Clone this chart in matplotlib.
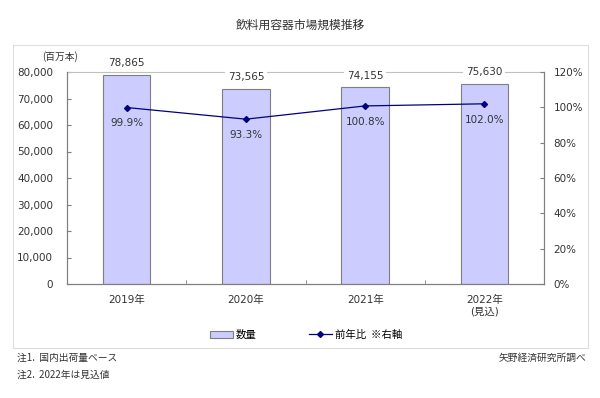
import matplotlib.pyplot as plt
import matplotlib.patches as mpatches
from matplotlib.lines import Line2D
import numpy as np

plt.rcParams['font.family'] = ['DejaVu Sans', 'Noto Sans CJK JP']

# datos del grafico
years = ["2019年", "2020年", "2021年", "2022年\n(見込)"]
cantidad = [78865, 73565, 74155, 75630]   # 百万本
ratio = [99.9, 93.3, 100.8, 102.0]       # 前年比 %

jp = ['Noto Sans CJK JP', 'DejaVu Sans']
gris = '#7f7f7f'
texto = '#333333'

fig = plt.figure(figsize=(6, 3.98), dpi=100)

# marco exterior gris
fig.patches.append(mpatches.Rectangle((13 / 600, 1 - 348 / 398), 575 / 600, 303 / 398,
                                      transform=fig.transFigure, fill=False,
                                      edgecolor='#dddddd', linewidth=0.8))

ax = fig.add_axes([67 / 600, 1 - 284 / 398, 477 / 600, 212 / 398])
x = np.arange(len(years))
ax.bar(x, cantidad, width=0.4, color='#ccccff', edgecolor=gris, linewidth=0.8, zorder=2)
ax.set_xlim(-0.5, len(years) - 0.5)
ax.set_ylim(0, 80000)
ax.set_yticks(np.arange(0, 80001, 10000))
ax.set_yticklabels([f"{v:,}" for v in range(0, 80001, 10000)], fontsize=7.5, color=texto)
ax.set_xticks(x)
ax.set_xticklabels(years, fontsize=7.5, color=texto)
ax.tick_params(axis='x', length=0, pad=8)
ax.set_xticks(np.arange(-0.5, len(years)), minor=True)
ax.tick_params(axis='x', which='minor', length=3, direction='in', color=gris)
ax.tick_params(axis='y', length=3, direction='in', color=gris, pad=10)
for s in ['left', 'right', 'bottom']:
    ax.spines[s].set_color(gris)
ax.spines['top'].set_color('#c0c0c0')

ax2 = ax.twinx()
ax2.plot(x, ratio, color='#000080', linewidth=0.9, marker='D', markersize=3, zorder=4)
ax2.set_ylim(0, 120)
ax2.set_yticks(np.arange(0, 121, 20))
ax2.set_yticklabels([f"{v}%" for v in range(0, 121, 20)], fontsize=7.5, color=texto)
ax2.tick_params(axis='y', length=3, direction='in', color=gris, pad=7)
for s in ['left', 'right', 'bottom']:
    ax2.spines[s].set_color(gris)
ax2.spines['top'].set_visible(False)
for xi, r in zip(x, ratio):
    ax2.text(xi, r - 9, f"{r:.1f}%", ha='center', va='center', fontsize=7.5, color=texto)

# etiquetas de las barras (en ax2 para quedar por encima de la linea superior)
for xi, v in zip(x, cantidad):
    ax2.text(xi, (v + 2600) * 120 / 80000, f"{v:,}", ha='center', va='bottom', fontsize=7.5,
             color=texto, bbox=dict(facecolor='white', edgecolor='none', pad=2),
             zorder=5, clip_on=False)

fig.text(300 / 600, 1 - 25 / 398, "飲料用容器市場規模推移", ha='center', va='center',
         fontsize=8.5, color=texto, family=jp)
fig.text(60 / 600, 1 - 57 / 398, "(百万本)", ha='center', va='center', fontsize=7,
         color=texto, family=jp)

handles = [mpatches.Patch(facecolor='#ccccff', edgecolor=gris, linewidth=0.8),
           Line2D([], [], color='#000080', linewidth=0.9, marker='D', markersize=3)]
fig.legend(handles, ["数量", "前年比  ※右軸"], loc='center', bbox_to_anchor=(306 / 600, 1 - 335 / 398),
           ncol=2, frameon=False, columnspacing=5, handlelength=2.2,
           handletextpad=0.3, prop={'family': jp, 'size': 7.5})

fig.text(17 / 600, 1 - 358 / 398, "注1.  国内出荷量ベース", ha='left', va='center', fontsize=7,
         color=texto, family=jp)
fig.text(17 / 600, 1 - 375 / 398, "注2.  2022年は見込値", ha='left', va='center', fontsize=7,
         color=texto, family=jp)
fig.text(586 / 600, 1 - 358 / 398, "矢野経済研究所調べ", ha='right', va='center', fontsize=7,
         color=texto, family=jp)

fig.savefig("out.png", dpi=100)
